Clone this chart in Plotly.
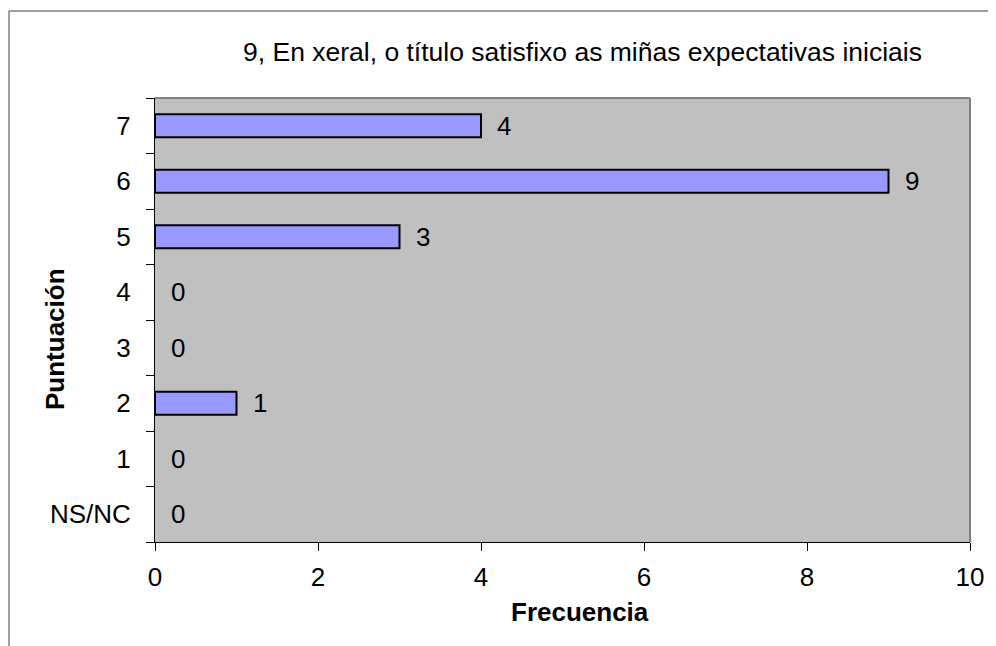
import plotly.graph_objects as go

categories = ["NS/NC", "1", "2", "3", "4", "5", "6", "7"]
values = [0, 0, 1, 0, 0, 3, 9, 4]
x_ticks = [0, 2, 4, 6, 8, 10]

title_text = "9, En xeral, o título satisfixo as miñas expectativas iniciais"
x_title = "Frecuencia"
y_title = "Puntuación"
FONT = "Liberation Sans, Arial, sans-serif"

# plot-area position on the page (the page body has an 8px margin)
PL, PR, PT, PB = 155, 970, 98, 542
W, H = 988, 638


def px(x):
    return (x - PL) / (PR - PL)


def py(y):
    return (PB - y) / (PB - PT)


fig = go.Figure()
fig.add_trace(go.Bar(
    y=categories, x=values, orientation="h",
    marker=dict(color="#9999FF",
                line=dict(color="black", width=[2 if v > 0 else 0 for v in values])),
    width=0.41, hoverinfo="skip",
))

for c, v in zip(categories, values):
    fig.add_annotation(x=v, y=c, text=str(v), showarrow=False,
                       xanchor="left", yanchor="middle", xshift=14,
                       font=dict(family=FONT, size=26, color="black"))

fig.add_annotation(xref="paper", yref="paper", x=px(582), y=py(52),
                   text=title_text, showarrow=False, xanchor="center",
                   yanchor="middle", font=dict(family=FONT, size=26.5, color="black"))
fig.add_annotation(xref="paper", yref="paper", x=px(580), y=py(612),
                   text="<b>" + x_title + "</b>", showarrow=False, xanchor="center",
                   yanchor="middle", font=dict(family=FONT, size=26, color="black"))
fig.add_annotation(xref="paper", yref="paper", x=px(55), y=py(339),
                   text="<b>" + y_title + "</b>", showarrow=False, textangle=-90,
                   xanchor="center", yanchor="middle",
                   font=dict(family=FONT, size=26, color="black"))

fig.update_layout(
    width=W, height=H,
    margin=dict(l=PL - 8, r=W - (PR - 8), t=PT - 8, b=H - (PB - 8)),
    paper_bgcolor="white", plot_bgcolor="#C0C0C0",
    showlegend=False,
    font=dict(family=FONT, size=26, color="black"),
    xaxis=dict(range=[0, 10], tickvals=x_ticks, ticks="outside", ticklen=8,
               tickcolor="black", showline=True, linecolor="black", linewidth=1,
               showgrid=False, zeroline=False, ticklabelstandoff=4,
               tickfont=dict(family=FONT, size=26)),
    yaxis=dict(type="category", categoryorder="array", categoryarray=categories,
               tickson="boundaries", ticks="outside", ticklen=8, tickcolor="black",
               showline=True, linecolor="black", linewidth=1, showgrid=False,
               zeroline=False, ticklabelstandoff=18,
               tickfont=dict(family=FONT, size=26)),
)

# gray border on top and right of plot area
fig.add_shape(type="line", xref="paper", yref="paper", x0=0, x1=1, y0=1, y1=1,
              line=dict(color="#808080", width=2))
fig.add_shape(type="line", xref="paper", yref="paper", x0=1, x1=1, y0=0, y1=1,
              line=dict(color="#808080", width=2))
# outer chart frame
fig.add_shape(type="rect", xref="paper", yref="paper",
              x0=px(9), x1=1.2, y0=-0.5, y1=py(11),
              line=dict(color="#404040", width=1), layer="below")

fig.write_html("out.html")
